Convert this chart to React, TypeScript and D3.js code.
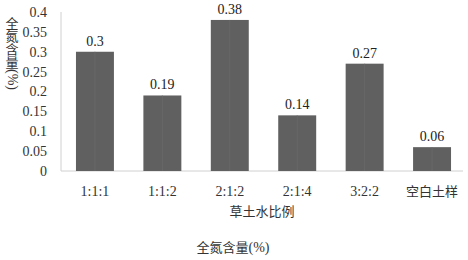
import React from "react";
import * as d3 from "d3";

const categories = ["1:1:1", "1:1:2", "2:1:2", "2:1:4", "3:2:2", "空白土样"];
const values = [0.3, 0.19, 0.38, 0.14, 0.27, 0.06];
const yTicks = [0, 0.05, 0.1, 0.15, 0.2, 0.25, 0.3, 0.35, 0.4];

export default function App() {
  const W = 468, H = 260;
  const left = 61, right = 466, top = 12, bottom = 171;
  const x = d3.scaleBand<string>().domain(categories).range([left, right]).paddingInner(0.437).paddingOuter(0.222);
  const y = d3.scaleLinear().domain([0, 0.4]).range([bottom, top]);
  const serif = "Liberation Serif";
  const cjk = "Noto Sans CJK SC";
  return (
    <svg width={W} height={H} style={{ position: "absolute", left: 0, top: 0, background: "#fff" }}>
      <line x1={left} x2={left} y1={top} y2={bottom} stroke="#d0d0d0" />
      <line x1={left} x2={463} y1={bottom} y2={bottom} stroke="#d0d0d0" />
      {yTicks.map((t) => (
        <text key={t} x={47} y={y(t)} dy="0.35em" textAnchor="end" fontSize={14} style={{ fontFamily: serif }} fill="#333">{t}</text>
      ))}
      {categories.map((c, i) => (
        <g key={c}>
          <rect x={x(c)} y={y(values[i])} width={x.bandwidth()} height={bottom - y(values[i])} fill="#606060" />
          <line x1={x(c)! + x.bandwidth() / 2} x2={x(c)! + x.bandwidth() / 2} y1={y(values[i])} y2={bottom} stroke="#6a6a6a" strokeWidth={0.8} />
          <text x={x(c)! + x.bandwidth() / 2} y={y(values[i]) - 6} textAnchor="middle" fontSize={14} style={{ fontFamily: serif }} fill="#222">{values[i]}</text>
          <text x={x(c)! + x.bandwidth() / 2} y={196} textAnchor="middle" fontSize={i === 5 ? 13 : 14} style={{ fontFamily: i === 5 ? cjk : serif }} fill="#333">{c}</text>
        </g>
      ))}
      <text x={262} y={216} textAnchor="middle" fontSize={13} style={{ fontFamily: cjk }} fill="#333">草土水比例</text>
      <text x={233} y={252} textAnchor="middle" fontSize={13} style={{ fontFamily: cjk }} fill="#333">
        全氮含量<tspan style={{ fontFamily: serif }} fontSize={14}>(%)</tspan>
      </text>
      <text x={12} y={17} fontSize={13} fill="#333" style={{ fontFamily: cjk, writingMode: "vertical-rl", textOrientation: "mixed" } as any}>
        全氮含量<tspan style={{ fontFamily: serif }} fontSize={14}>(%)</tspan>
      </text>
    </svg>
  );
}
